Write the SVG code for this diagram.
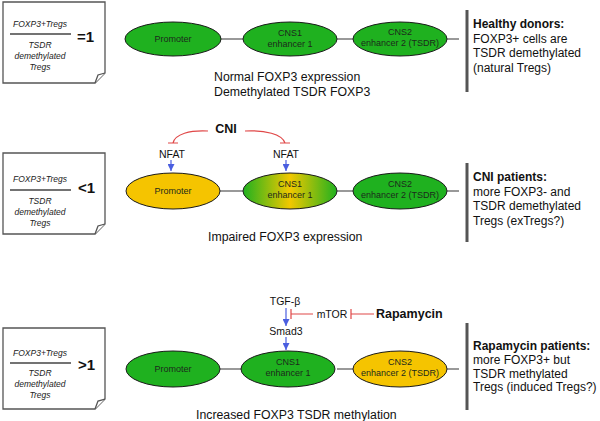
<svg xmlns="http://www.w3.org/2000/svg" width="600" height="421" viewBox="0 0 600 421">
<style>
text{font-family:"Liberation Sans",Arial,sans-serif;fill:#111}
.note{fill:#fff;stroke:#555;stroke-width:1.3}
.ni{font-size:8.5px;font-style:italic;text-anchor:middle;fill:#222}
.ratio{font-size:15px;font-weight:bold}
.el{stroke:#1a1a1a;stroke-width:1}
.g{fill:#1fb11f}
.y{fill:#f5c400}
.et{font-size:9px;text-anchor:middle;fill:#1c2a1c}
.cap{font-size:12.3px}
.bar{stroke:#555;stroke-width:3}
.rt{font-size:12px}
.b{font-weight:bold}
.lbl{font-size:10.5px;text-anchor:middle}
.link{stroke:#777;stroke-width:1.5;fill:none}
.inh{stroke:#e04848;stroke-width:1.2;fill:none}
.act{stroke:#4a5ee0;stroke-width:1.2;fill:none}
</style>
<defs>
<marker id="ah" viewBox="0 0 10 10" refX="10" refY="5" markerWidth="7" markerHeight="7" markerUnits="userSpaceOnUse" orient="auto">
<path d="M0,0 L10,5 L0,10 Z" fill="#4a5ee0"/>
</marker>
<linearGradient id="gy" x1="0" y1="0" x2="1" y2="0">
<stop offset="0" stop-color="#1fb11f"/>
<stop offset="0.5" stop-color="#f2c800"/>
<stop offset="1" stop-color="#1fb11f"/>
</linearGradient>
</defs>

<g id="connectors">
<line class="link" x1="220" y1="39" x2="243" y2="39"/>
<line class="link" x1="337" y1="39" x2="353" y2="39"/>
<line class="link" x1="447" y1="39" x2="459" y2="39"/>
<line class="link" x1="220" y1="191" x2="243" y2="191"/>
<line class="link" x1="337" y1="191" x2="353" y2="191"/>
<line class="link" x1="447" y1="191" x2="459" y2="191"/>
<line class="link" x1="220" y1="369" x2="243" y2="369"/>
<line class="link" x1="337" y1="369" x2="353" y2="369"/>
<line class="link" x1="447" y1="369" x2="459" y2="369"/>
<path class="inh" d="M208,131 C190,130 175,134 173,143 M168,143 H178"/>
<path class="inh" d="M245,131 C265,130 282,134 285,143 M280,143 H290"/>
<line class="act" x1="171" y1="160" x2="171" y2="171" marker-end="url(#ah)"/>
<line class="act" x1="286" y1="160" x2="286" y2="171" marker-end="url(#ah)"/>
<line class="act" x1="286" y1="308" x2="286" y2="326" marker-end="url(#ah)"/>
<line class="act" x1="286" y1="337" x2="286" y2="350" marker-end="url(#ah)"/>
<path class="inh" d="M291,314 H313 M291,309 V319"/>
<path class="inh" d="M351,314 H374 M351,309 V319"/>
</g>

<g id="note1">
<path class="note" d="M3,2 H105 V73 L95,83 H3 Z"/>
<path class="note" d="M105,73 L98,75 L95,83"/>
<text class="ni" x="40" y="27">FOXP3+Tregs</text>
<line x1="10" y1="34" x2="71" y2="34" stroke="#444" stroke-width="1.3"/>
<text class="ni" x="40" y="48">TSDR</text>
<text class="ni" x="40" y="59">demethylated</text>
<text class="ni" x="40" y="70">Tregs</text>
<text class="ratio" x="77" y="42">=1</text>
</g>
<g id="note2">
<path class="note" d="M3,153 H105 V224 L95,234 H3 Z"/>
<path class="note" d="M105,224 L98,226 L95,234"/>
<text class="ni" x="40" y="182">FOXP3+Tregs</text>
<line x1="10" y1="190" x2="71" y2="190" stroke="#444" stroke-width="1.3"/>
<text class="ni" x="40" y="204">TSDR</text>
<text class="ni" x="40" y="215">demethylated</text>
<text class="ni" x="40" y="226">Tregs</text>
<text class="ratio" x="78" y="193">&lt;1</text>
</g>
<g id="note3">
<path class="note" d="M3,328 H105 V399 L95,409 H3 Z"/>
<path class="note" d="M105,399 L98,401 L95,409"/>
<text class="ni" x="40" y="356">FOXP3+Tregs</text>
<line x1="10" y1="363" x2="71" y2="363" stroke="#444" stroke-width="1.3"/>
<text class="ni" x="40" y="376">TSDR</text>
<text class="ni" x="40" y="387">demethylated</text>
<text class="ni" x="40" y="398">Tregs</text>
<text class="ratio" x="78" y="370">&gt;1</text>
</g>

<g id="promoter1"><ellipse class="el g" cx="173" cy="39" rx="48" ry="17"/><text class="et" x="173" y="42">Promoter</text></g>
<g id="cns1a"><ellipse class="el g" cx="290" cy="39" rx="47" ry="17"/><text class="et" x="290" y="36">CNS1</text><text class="et" x="290" y="47">enhancer 1</text></g>
<g id="cns2a"><ellipse class="el g" cx="400" cy="39" rx="47" ry="17"/><text class="et" x="400" y="35">CNS2</text><text class="et" x="400" y="46">enhancer 2 (TSDR)</text></g>

<g id="promoter2"><ellipse class="el y" cx="173" cy="191" rx="47" ry="18"/><text class="et" x="173" y="194">Promoter</text></g>
<g id="cns1b"><ellipse class="el" fill="url(#gy)" cx="290" cy="191" rx="47" ry="18"/><text class="et" x="290" y="187">CNS1</text><text class="et" x="290" y="198">enhancer 1</text></g>
<g id="cns2b"><ellipse class="el g" cx="400" cy="191" rx="47" ry="18"/><text class="et" x="400" y="187">CNS2</text><text class="et" x="400" y="198">enhancer 2 (TSDR)</text></g>

<g id="promoter3"><ellipse class="el g" cx="173" cy="369" rx="47" ry="18"/><text class="et" x="173" y="372">Promoter</text></g>
<g id="cns1c"><ellipse class="el g" cx="288" cy="369" rx="47" ry="18"/><text class="et" x="288" y="365">CNS1</text><text class="et" x="288" y="376">enhancer 1</text></g>
<g id="cns2c"><ellipse class="el y" cx="400" cy="369" rx="47" ry="18"/><text class="et" x="400" y="365">CNS2</text><text class="et" x="400" y="376">enhancer 2 (TSDR)</text></g>

<g id="cni"><text class="b" x="226" y="133" font-size="12.5" text-anchor="middle">CNI</text></g>
<g id="nfat1"><text class="lbl" x="172" y="158">NFAT</text></g>
<g id="nfat2"><text class="lbl" x="286" y="158">NFAT</text></g>
<g id="tgfb"><text class="lbl" x="285" y="305">TGF-β</text></g>
<g id="smad3"><text class="lbl" x="286" y="335">Smad3</text></g>
<g id="mtor"><text class="lbl" x="332" y="318">mTOR</text></g>
<g id="rapamycin"><text class="b" x="376" y="318" font-size="12.5">Rapamycin</text></g>

<g id="captions">
<text class="cap" x="214" y="81">Normal FOXP3 expression</text>
<text class="cap" x="214" y="96">Demethylated TSDR FOXP3</text>
<text class="cap" x="208" y="241">Impaired FOXP3 expression</text>
<text class="cap" x="196" y="419">Increased FOXP3 TSDR methylation</text>
</g>

<g id="summary1">
<line class="bar" x1="467" y1="10" x2="467" y2="92"/>
<text class="rt" x="473" y="28"><tspan class="b">Healthy donors:</tspan><tspan x="473" dy="14.5">FOXP3+ cells are</tspan><tspan x="473" dy="14.5">TSDR demethylated</tspan><tspan x="473" dy="14.5">(natural Tregs)</tspan></text>
</g>
<g id="summary2">
<line class="bar" x1="467" y1="163" x2="467" y2="242"/>
<text class="rt" x="473" y="181"><tspan class="b">CNI patients:</tspan><tspan x="473" dy="14.5">more FOXP3- and</tspan><tspan x="473" dy="14.5">TSDR demethylated</tspan><tspan x="473" dy="14.5">Tregs (exTregs?)</tspan></text>
</g>
<g id="summary3">
<line class="bar" x1="467" y1="323" x2="467" y2="410"/>
<text class="rt" x="473" y="350"><tspan class="b">Rapamycin patients:</tspan><tspan x="473" dy="13.8">more FOXP3+ but</tspan><tspan x="473" dy="13.8">TSDR methylated</tspan><tspan x="473" dy="13.8">Tregs (induced Tregs?)</tspan></text>
</g>
</svg>
